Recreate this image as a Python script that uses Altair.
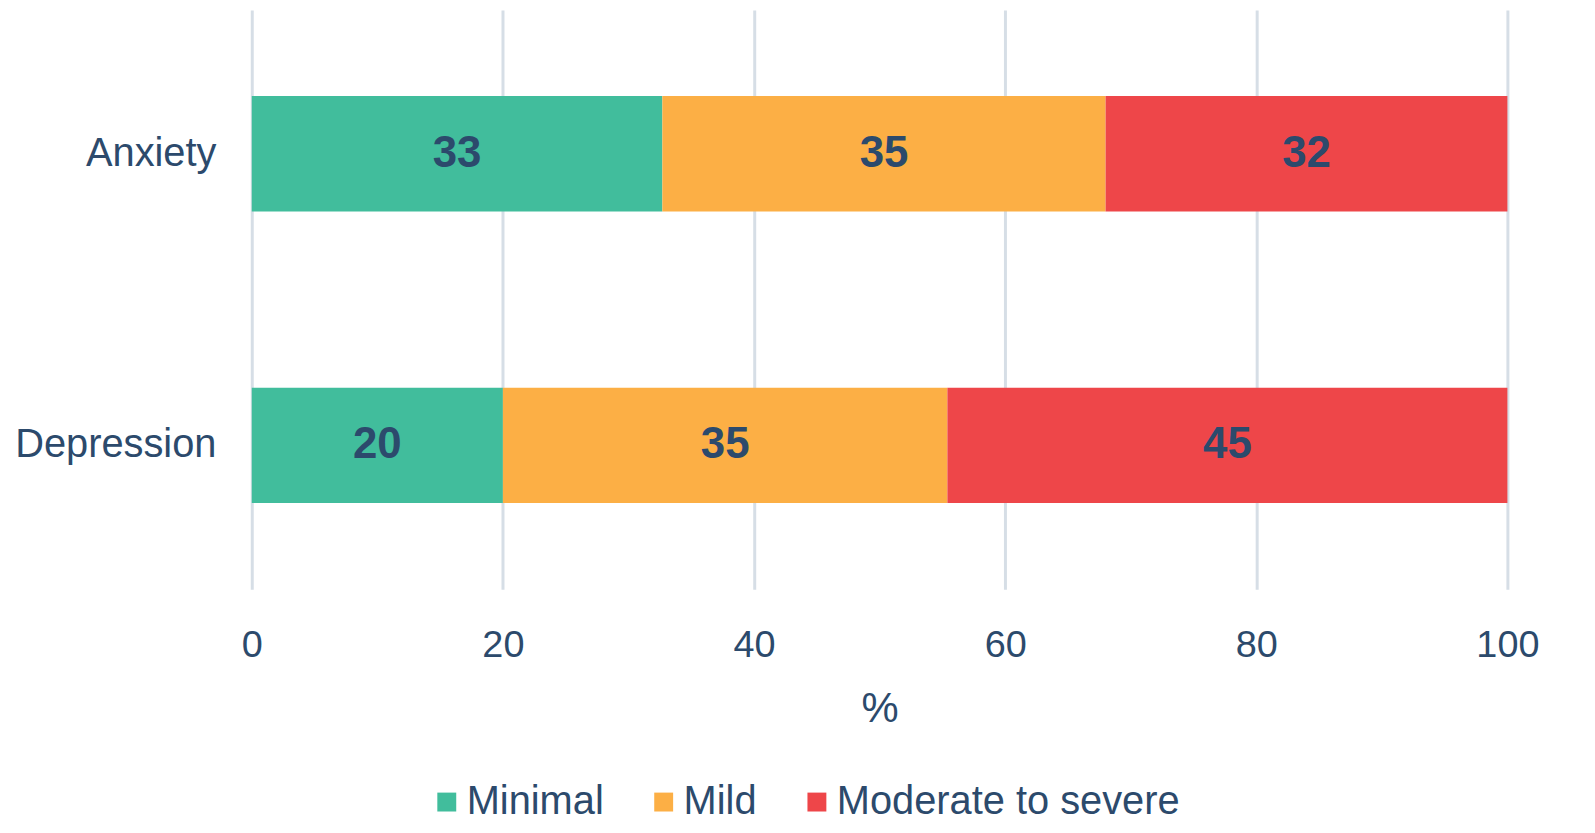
import altair as alt
import pandas as pd

categories = ["Anxiety", "Depression"]
levels = ["Minimal", "Mild", "Moderate to severe"]
anxiety = [32.7, 35.3, 32.0]
depression = [20.0, 35.4, 44.6]
colors = ["#41bd9c", "#fcaf45", "#ee4649"]
x_ticks = [0, 20, 40, 60, 80, 100]

rows = []
for cat, vals in zip(categories, [anxiety, depression]):
    for i, (lvl, v) in enumerate(zip(levels, vals)):
        rows.append({"category": cat, "level": lvl, "value": v, "order": i})
df = pd.DataFrame(rows)

TEXT = "#2c4a6c"
REG = "Liberation Sans, Arial, sans-serif"

base = alt.Chart(df).transform_stack(
    stack="value", groupby=["category"], as_=["x0", "x1"],
    sort=[alt.SortField("order", order="ascending")]
).transform_calculate(mid="(datum.x0 + datum.x1) / 2")

yenc = alt.Y(
    "category:N", sort=categories, title=None,
    scale=alt.Scale(paddingInner=0.604, paddingOuter=0.295),
    axis=alt.Axis(domain=False, ticks=False, labelFontSize=40, labelFont=REG,
                  labelColor=TEXT, labelPadding=36, labelLimit=0),
)

bars = base.mark_bar().encode(
    y=yenc,
    x=alt.X("x0:Q", scale=alt.Scale(domain=[0, 100], nice=False),
            title="%",
            axis=alt.Axis(values=x_ticks, domain=False, ticks=False,
                          grid=True, gridColor="#d6dee6", gridWidth=3,
                          labelFontSize=38, labelFont=REG, labelColor=TEXT,
                          labelFlush=False,
                          labelPadding=38, titleFontSize=42, titleFont=REG,
                          titleFontWeight="normal", titleColor=TEXT,
                          titlePadding=24)),
    x2="x1:Q",
    color=alt.Color("level:N", sort=levels,
                    scale=alt.Scale(domain=levels, range=colors),
                    legend=alt.Legend(title=None, orient="none", direction="horizontal",
                                      legendX=176, legendY=776, symbolType="square",
                                      symbolSize=361, symbolStrokeWidth=0,
                                      labelFontSize=40, labelFont=REG, labelLimit=0,
                                      labelColor=TEXT, labelOffset=0,
                                      columnPadding=40, padding=0)),
)

labels = base.mark_text(fontSize=44, font=REG, fontWeight="bold", color=TEXT).encode(
    y=alt.Y("category:N", sort=categories),
    x=alt.X("mid:Q"),
    text=alt.Text("value:Q", format=".0f"),
)

chart = alt.layer(bars, labels).properties(
    width=1262, height=582,
    autosize=alt.AutoSizeParams(type="none"),
    padding={"left": 245, "top": 0, "right": 80, "bottom": 238},
).configure_view(stroke=None)

chart.save("out.html", embed_options={"renderer": "svg", "actions": False})
